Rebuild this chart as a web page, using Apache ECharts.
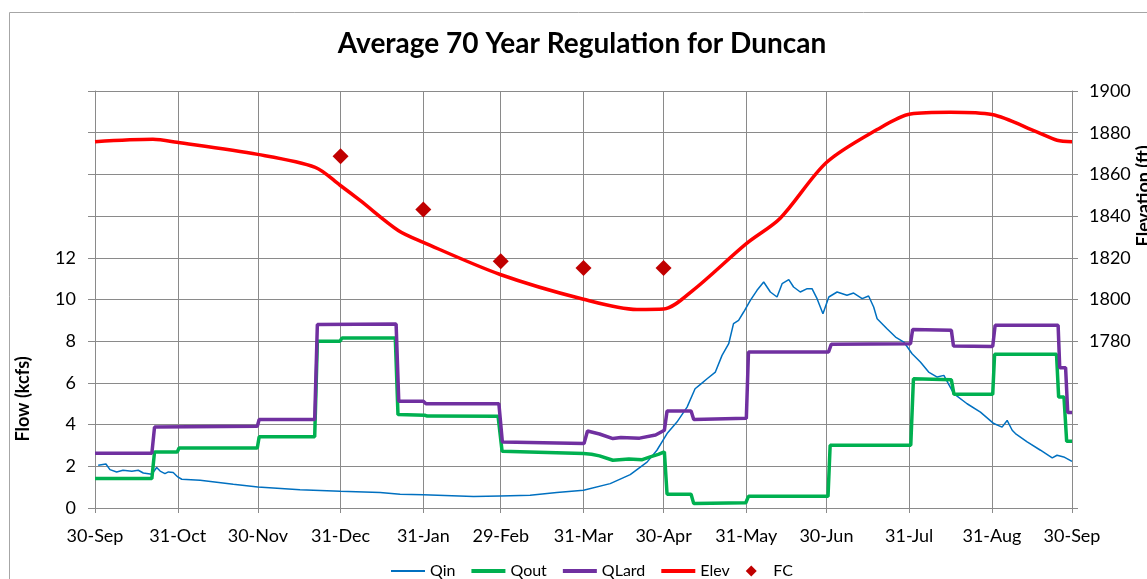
<!DOCTYPE html>
<html>
<head>
<meta charset="utf-8">
<title>Average 70 Year Regulation for Duncan</title>
<script src="https://cdn.jsdelivr.net/npm/echarts@6/dist/echarts.min.js"></script>
<style>
  html, body { margin: 0; padding: 0; background: #fff; }
  #main { width: 1147px; height: 579px; }
</style>
</head>
<body>
<div id="main"></div>
<script>
// x axis: days after 30-Sep, labels at month ends
var tickDays = [0, 31, 61, 92, 123, 152, 183, 213, 244, 274, 305, 336, 366];
var tickLabels = ['30-Sep', '31-Oct', '30-Nov', '31-Dec', '31-Jan', '29-Feb', '31-Mar',
                  '30-Apr', '31-May', '30-Jun', '31-Jul', '31-Aug', '30-Sep'];

// Qin (kcfs)
var qinDay = [1.2, 4.1, 5.6, 8.1, 10.5, 13.8, 16.2, 18.1, 21.3, 23.1, 24.4, 26.2, 27.5, 29.3, 31.0,
  32.5, 39.4, 51.8, 61.0, 76.8, 91.9, 106.8, 114.3, 123.0, 141.8, 151.8, 163.0, 173.0, 183.0,
  193.0, 200.5, 206.8, 210.5, 214.3, 218.0, 221.8, 224.8, 226.8, 229.3, 232.4, 234.9, 237.4,
  239.2, 241.1, 243.0, 245.5, 248.0, 250.5, 253.0, 255.5, 257.4, 259.9, 261.7, 264.2, 266.8,
  268.6, 270.5, 272.7, 274.9, 278.0, 281.7, 284.2, 287.4, 289.8, 291.7, 293.0, 296.7, 299.9,
  303.0, 306.1, 309.2, 312.3, 315.5, 318.0, 321.7, 326.7, 331.7, 336.7, 339.8, 341.7, 343.6,
  344.8, 349.2, 354.2, 358.6, 360.4, 362.9, 366];
var qinFlow = [2.05, 2.11, 1.84, 1.73, 1.81, 1.76, 1.81, 1.68, 1.62, 1.94, 1.77, 1.65, 1.73, 1.70, 1.49,
  1.38, 1.33, 1.14, 1.01, 0.88, 0.80, 0.74, 0.66, 0.64, 0.55, 0.58, 0.61, 0.74, 0.85,
  1.17, 1.60, 2.20, 2.77, 3.57, 4.12, 4.84, 5.72, 5.93, 6.20, 6.52, 7.32, 7.88,
  8.84, 9.00, 9.40, 9.96, 10.44, 10.84, 10.36, 10.12, 10.76, 10.95, 10.60, 10.36, 10.52,
  10.52, 10.04, 9.32, 10.12, 10.36, 10.20, 10.31, 10.04, 10.17, 9.64, 9.08, 8.60, 8.20,
  7.96, 7.40, 7.00, 6.52, 6.28, 6.36, 5.49, 5.00, 4.60, 4.05, 3.88, 4.20, 3.73,
  3.57, 3.17, 2.77, 2.40, 2.53, 2.45, 2.24];

// Qout (kcfs)
var qoutDay = [0, 21.3, 22.3, 30.8, 31.5, 60.8, 61.5, 82.3, 83.3, 91.8, 92.5, 112.5, 113.5, 123.5,
  124.5, 151, 152.5, 183, 186, 189, 194, 200, 205, 208, 211, 213.3, 214.3, 223.3, 224.3, 243.8,
  244.8, 274.6, 275.4, 305.6, 306.6, 320.8, 321.8, 336.3, 337, 360.2, 361, 363, 364, 366];
var qoutFlow = [1.41, 1.41, 2.69, 2.69, 2.88, 2.88, 3.42, 3.42, 8.0, 8.0, 8.15, 8.15, 4.48, 4.45,
  4.41, 4.40, 2.72, 2.61, 2.58, 2.5, 2.29, 2.35, 2.32, 2.45, 2.57, 2.69, 0.66, 0.66, 0.21, 0.25,
  0.56, 0.56, 3.01, 3.01, 6.2, 6.15, 5.45, 5.45, 7.37, 7.37, 5.32, 5.32, 3.2, 3.2];

// QLard (kcfs)
var qlardDay = [0, 21.3, 22.3, 60.8, 61.5, 82.3, 83.3, 112.8, 113.8, 123, 124, 151.3, 152.6, 183.2,
  184.5, 189, 194, 197, 204, 210, 213.3, 214.3, 223.3, 224.3, 244, 244.8, 274.8, 275.8, 305.5,
  306.3, 320.8, 321.6, 336.3, 337.2, 360.8, 361.4, 363.6, 364.4, 366];
var qlardFlow = [2.62, 2.62, 3.88, 3.92, 4.24, 4.24, 8.8, 8.82, 5.12, 5.12, 5.0, 5.0, 3.17, 3.09,
  3.69, 3.55, 3.33, 3.38, 3.35, 3.5, 3.73, 4.65, 4.65, 4.24, 4.3, 7.48, 7.48, 7.85, 7.88,
  8.56, 8.52, 7.77, 7.75, 8.76, 8.76, 6.73, 6.73, 4.58, 4.58];

// Elev (ft)
var elevDay = [0, 21.7, 30.7, 61, 82.5, 91.8, 99.3, 113.6, 123, 151.8, 183, 203, 213, 224, 244,
  256.7, 274, 293, 305.5, 320.5, 336, 353, 360.4, 366];
var elevFt = [1875.7, 1876.8, 1875.4, 1869.6, 1863.4, 1854.8, 1847.5, 1833.1, 1827.4, 1812,
  1800.1, 1795.2, 1795.4, 1804.4, 1826.8, 1839, 1865.7, 1881.5, 1889, 1889.8, 1888.7, 1880.3,
  1876.4, 1875.7];

// FC (ft)
var fcDay = [92, 123, 152, 183, 213];
var fcFt = [1868.7, 1843.2, 1818.3, 1815.1, 1815.1];

function pairs(xs, ys) {
  return xs.map(function (x, i) { return [x, ys[i]]; });
}

var font = 'Lato, "Open Sans", sans-serif';
var gridColor = '#8a8a8a';
// flat legend icons, plain line like excel
var thinLine = 'path://M0,0L34,0L34,2L0,2Z';
var thickLine = 'path://M0,0L34,0L34,4L0,4Z';
var smallDiamond = 'path://M5,0L10,5L5,10L0,5Z';

var chart = echarts.init(document.getElementById('main'));

var option = {
  animation: false,
  textStyle: { fontFamily: font, color: '#000' },
  title: {
    text: 'Average 70 Year Regulation for Duncan',
    left: 582,
    textAlign: 'center',
    top: 30,
    padding: 0,
    textStyle: { fontFamily: font, fontSize: 28, fontWeight: 'bold', color: '#000' }
  },
  legend: {
    left: 386,
    top: 558,
    itemWidth: 34,
    itemHeight: 11,
    itemGap: 16,
    textStyle: { fontFamily: font, fontSize: 16, color: '#000' },
    data: [
      { name: 'Qin', icon: thinLine },
      { name: 'Qout', icon: thickLine },
      { name: 'QLard', icon: thickLine },
      { name: 'Elev', icon: thickLine },
      { name: 'FC', icon: smallDiamond }
    ]
  },
  grid: { left: 95, right: 75, top: 91, bottom: 71 },
  xAxis: {
    type: 'value',
    min: 0,
    max: 366,
    axisLine: { show: true, lineStyle: { color: gridColor } },
    axisTick: { show: true, length: 5, customValues: tickDays, lineStyle: { color: gridColor } },
    axisLabel: {
      customValues: tickDays,
      margin: 19,
      fontSize: 18,
      color: '#000',
      fontFamily: font,
      formatter: function (v) { return tickLabels[tickDays.indexOf(v)] || ''; }
    },
    splitLine: { show: true, lineStyle: { color: gridColor } }
  },
  yAxis: [
    {
      type: 'value',
      min: 0,
      max: 20,
      interval: 2,
      axisLine: { show: true, lineStyle: { color: gridColor } },
      axisTick: { show: true, length: 7, lineStyle: { color: gridColor } },
      axisLabel: {
        margin: 19, fontSize: 18, color: '#000', fontFamily: font,
        formatter: function (v) { return v <= 12 ? v : ''; }
      },
      splitLine: { show: true, lineStyle: { color: gridColor } }
    },
    {
      type: 'value',
      min: 1700,
      max: 1900,
      interval: 20,
      position: 'right',
      axisLine: { show: true, lineStyle: { color: gridColor } },
      axisTick: { show: true, length: 6, lineStyle: { color: gridColor } },
      axisLabel: {
        margin: 17, fontSize: 18, color: '#000', fontFamily: font,
        formatter: function (v) { return v >= 1780 ? v : ''; }
      },
      splitLine: { show: false }
    }
  ],
  graphic: [
    // chart area border (only left and top edge fall inside the picture)
    {
      type: 'rect', left: 7, top: 10, silent: true,
      shape: { width: 1200, height: 640 },
      style: { fill: null, stroke: '#a6a6a6', lineWidth: 1 }
    },
    {
      type: 'text', x: 23, y: 399, rotation: Math.PI / 2, silent: true,
      style: {
        text: 'Flow (kcfs)', font: 'bold 18px ' + font, fill: '#000',
        align: 'center', verticalAlign: 'middle', textAlign: 'center', textVerticalAlign: 'middle'
      }
    },
    {
      type: 'text', x: 1144, y: 196, rotation: Math.PI / 2, silent: true,
      style: {
        text: 'Elevation (ft)', font: 'bold 18px ' + font, fill: '#000',
        align: 'center', verticalAlign: 'middle', textAlign: 'center', textVerticalAlign: 'middle'
      }
    }
  ],
  series: [
    {
      name: 'Qin', type: 'line', yAxisIndex: 0, symbol: 'none',
      lineStyle: { width: 1.5, color: '#0070c0' }, itemStyle: { color: '#0070c0' },
      data: pairs(qinDay, qinFlow)
    },
    {
      name: 'Qout', type: 'line', yAxisIndex: 0, symbol: 'none',
      lineStyle: { width: 3.5, color: '#00b050' }, itemStyle: { color: '#00b050' },
      data: pairs(qoutDay, qoutFlow)
    },
    {
      name: 'QLard', type: 'line', yAxisIndex: 0, symbol: 'none',
      lineStyle: { width: 3.5, color: '#7030a0' }, itemStyle: { color: '#7030a0' },
      data: pairs(qlardDay, qlardFlow)
    },
    {
      name: 'Elev', type: 'line', yAxisIndex: 1, symbol: 'none', smooth: 0.3,
      lineStyle: { width: 3.5, color: '#ff0000' }, itemStyle: { color: '#ff0000' },
      data: pairs(elevDay, elevFt)
    },
    {
      name: 'FC', type: 'scatter', yAxisIndex: 1, symbol: 'diamond', symbolSize: 16,
      itemStyle: { color: '#c00000', opacity: 1 },
      data: pairs(fcDay, fcFt)
    }
  ]
};

chart.setOption(option);
</script>
</body>
</html>
